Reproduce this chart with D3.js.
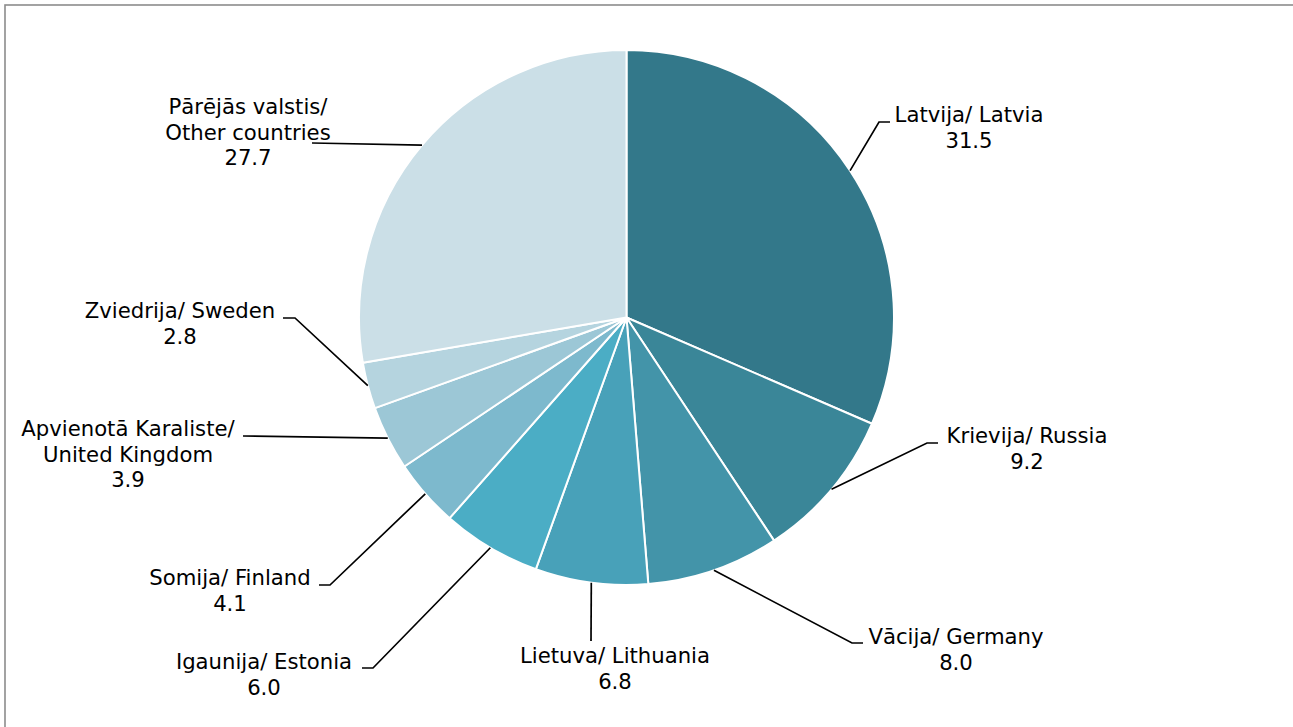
<!DOCTYPE html>
<html>
<head>
<meta charset="utf-8">
<script src="https://cdn.jsdelivr.net/npm/d3@7"></script>
<style>
  body { margin: 0; background: #fff; }
  text { font-family: "DejaVu Sans", Verdana, sans-serif; font-size: 21.2px; fill: #000; }
</style>
</head>
<body>
<div id="viz"></div>
<script>
// data
var countries = [
  ["Latvija/ Latvia"],
  ["Krievija/ Russia"],
  ["Vācija/ Germany"],
  ["Lietuva/ Lithuania"],
  ["Igaunija/ Estonia"],
  ["Somija/ Finland"],
  ["Apvienotā Karaliste/", "United Kingdom"],
  ["Zviedrija/ Sweden"],
  ["Pārējās valstis/", "Other countries"]
];
var shares = [31.5, 9.2, 8.0, 6.8, 6.0, 4.1, 3.9, 2.8, 27.7];
var colours = ["#33788a", "#3a8698", "#4394a9", "#48a1b9", "#4badc5",
               "#7db9cd", "#9cc7d6", "#b5d4df", "#cbdfe7"];

// label layout: elbow point, end of leader, text x + first baseline, anchor
var labelPos = [
  {elbow: [879, 122], end: [890, 122], tx: 969, ty: 122, anchor: "middle"},
  {elbow: [927, 443], end: [938, 443], tx: 1027, ty: 443, anchor: "middle"},
  {elbow: [852, 643], end: [863, 643], tx: 956, ty: 644, anchor: "middle"},
  {elbow: null, end: [591, 641], tx: 615, ty: 663, anchor: "middle"},
  {elbow: [373, 668], end: [362, 668], tx: 264, ty: 669, anchor: "middle"},
  {elbow: [330, 585], end: [319, 585], tx: 230, ty: 585, anchor: "middle"},
  {elbow: null, end: [243, 436], tx: 128, ty: 436, anchor: "middle"},
  {elbow: [295, 318], end: [283, 318], tx: 180, ty: 318, anchor: "middle"},
  {elbow: null, end: [312, 143], tx: 248, ty: 114, anchor: "middle"}
];

var W = 1293, H = 727;
var cx = 626.5, cy = 317.5, R = 267.5;

var svg = d3.select('#viz').append('svg')
            .attr('width', W)
            .attr('height', H);

// frame
svg.append('rect')
   .attr('x', 5).attr('y', 5)
   .attr('width', W + 10).attr('height', H + 10)
   .attr('fill', 'none')
   .attr('stroke', '#8c8c8c')
   .attr('stroke-width', 1.6);

var rows = shares.map(function(v, i) { return {name: countries[i], value: v, i: i}; });

var pie = d3.pie()
            .value(function(d) { return d.value; })
            .sort(null);
var arcs = pie(rows);
var arc = d3.arc().innerRadius(0).outerRadius(R);

var g = svg.append('g').attr('transform', 'translate(' + cx + ',' + cy + ')');

g.selectAll('path.slice')
 .data(arcs)
 .enter().append('path')
   .attr('class', 'slice')
   .attr('d', arc)
   .attr('fill', function(d) { return colours[d.data.i]; })
   .attr('stroke', '#fff')
   .attr('stroke-width', 2)
   .attr('stroke-linejoin', 'round');

// leader lines
var edge = function(d) {
  var a = (d.startAngle + d.endAngle) / 2;
  return [cx + R * Math.sin(a), cy - R * Math.cos(a)];
};

svg.selectAll('path.leader')
   .data(arcs)
   .enter().append('path')
     .attr('class', 'leader')
     .attr('fill', 'none')
     .attr('stroke', '#000')
     .attr('stroke-width', 1.7)
     .attr('d', function(d) {
       var p = labelPos[d.data.i];
       var pts = [edge(d)];
       if (p.elbow) pts.push(p.elbow);
       pts.push(p.end);
       return d3.line()(pts);
     });

// labels
var lab = svg.selectAll('text.lab')
   .data(arcs)
   .enter().append('text')
     .attr('class', 'lab')
     .attr('text-anchor', function(d) { return labelPos[d.data.i].anchor; });

lab.each(function(d) {
  var p = labelPos[d.data.i];
  var lines = d.data.name.concat([d3.format('.1f')(d.data.value)]);
  d3.select(this).selectAll('tspan')
    .data(lines)
    .enter().append('tspan')
      .attr('x', p.tx)
      .attr('y', function(t, k) { return p.ty + k * 25.5; })
      .text(function(t) { return t; });
});
</script>
</body>
</html>
